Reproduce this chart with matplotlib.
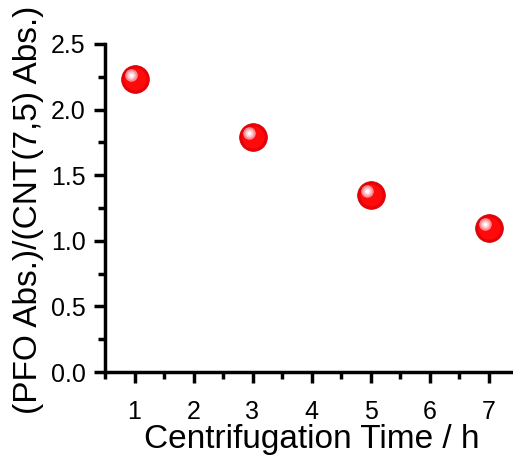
import matplotlib
matplotlib.use("Agg")
import matplotlib.pyplot as plt
import matplotlib.transforms as mtransforms
from matplotlib.ticker import MultipleLocator

time_h = [1, 3, 5, 7]
ratio = [2.23, 1.79, 1.35, 1.10]
x_ticks = [1, 2, 3, 4, 5, 6, 7]
y_ticks = [0.0, 0.5, 1.0, 1.5, 2.0, 2.5]

plt.rcParams['font.family'] = ['Liberation Sans', 'DejaVu Sans']

fig = plt.figure(figsize=(5.13, 4.58), dpi=100)
W, H = 513, 458
left, right = 105, 518
top, bottom = 44, 372
ax = fig.add_axes([left / W, 1 - bottom / H, (right - left) / W, (bottom - top) / H])

ax.set_xlim(0.5, 7.5)
ax.set_ylim(0, 2.5)

# sphere-like markers
ax.plot(time_h, ratio, 'o', ms=20, color='#e6000a', mec='#cc0000', mew=0.5, ls='none', zorder=3)
ax.plot(time_h, ratio, 'o', ms=16, color='#ff0a0a', mec='none', ls='none', zorder=4)
off = mtransforms.ScaledTranslation(-4 / 100, 4 / 100, fig.dpi_scale_trans)
ax.plot(time_h, ratio, 'o', ms=9, color='#ff8a92', mec='none', ls='none', zorder=5,
        transform=ax.transData + off)
ax.plot(time_h, ratio, 'o', ms=6, color='#ffc8cc', mec='none', ls='none', zorder=6,
        transform=ax.transData + off)
ax.plot(time_h, ratio, 'o', ms=3, color='white', mec='none', ls='none', zorder=7,
        transform=ax.transData + off)

ax.set_xticks(x_ticks)
ax.set_yticks(y_ticks)
ax.set_yticklabels([f"{v:.1f}" for v in y_ticks])
ax.xaxis.set_minor_locator(MultipleLocator(0.5))
ax.yaxis.set_minor_locator(MultipleLocator(0.25))

for s in ['top', 'right']:
    ax.spines[s].set_visible(False)
for s in ['left', 'bottom']:
    ax.spines[s].set_linewidth(2.5)

ax.tick_params(which='major', direction='out', length=8, width=2.5, labelsize=18)
ax.tick_params(axis='x', which='major', pad=12)
ax.tick_params(axis='y', which='major', pad=6)
ax.tick_params(which='minor', direction='out', length=5, width=2.5)

ax.set_xlabel('Centrifugation Time / h', fontsize=24, labelpad=0)
ax.set_ylabel('(PFO Abs.)/(CNT(7,5) Abs.)', fontsize=24)
ax.yaxis.set_label_coords(-0.148, 0.495)

fig.savefig('out.png', dpi=100)
